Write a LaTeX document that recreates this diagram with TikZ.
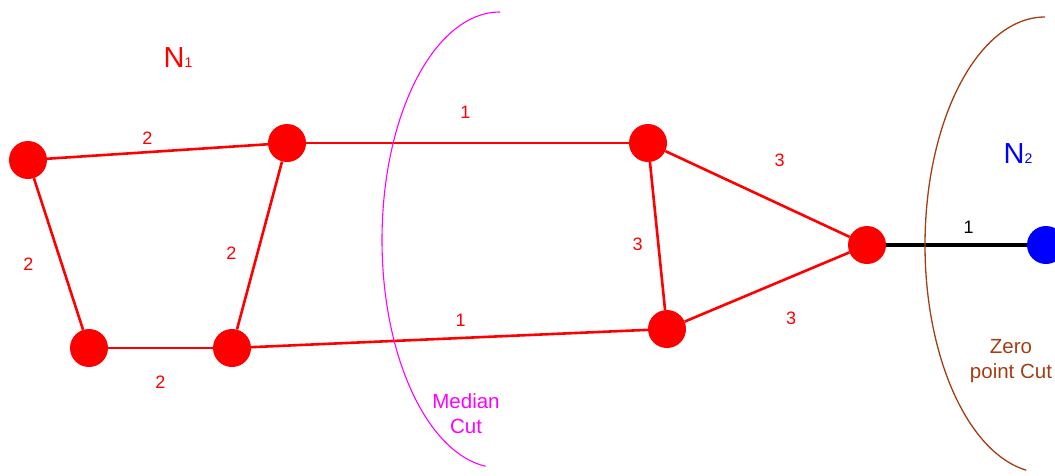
\documentclass[tikz,border=0pt]{standalone}
\usepackage{fontspec}
\setmainfont{Liberation Sans}
\usepackage{tikz}
\usetikzlibrary{positioning, calc}

\definecolor{cutmagenta}{RGB}{255,0,255}
\definecolor{cutbrown}{RGB}{163,62,20}

\begin{document}
\begin{tikzpicture}[
    x=1pt, y=-1pt,
    vertex/.style={circle, fill=red, minimum size=38pt, inner sep=0pt},
    bluevertex/.style={vertex, fill=blue},
    wt/.style={font=\fontsize{18}{18}\selectfont, text=red, inner sep=0pt},
    redge/.style={red, line width=2.6pt},
    cuttext/.style={font=\fontsize{20.5}{25}\selectfont, align=center, inner sep=0pt}
]
\useasboundingbox (0,0) rectangle (1055,475);

% Draw the vertices
\node[vertex] (a) at (28,160) {};
\node[vertex] (b) at (287,143) {};
\node[vertex] (c) at (89,348) {};
\node[vertex] (d) at (232,348) {};
\node[vertex] (e) at (648,143) {};
\node[vertex] (f) at (667,329) {};
\node[vertex] (g) at (867,245) {};
\node[bluevertex] (h) at (1046,245) {};

% Weighted edges
\draw[redge] (a) -- node[wt, xshift=-10pt, yshift=13pt] (wab) {2} (b);
\draw[redge] (a) -- node[wt, xshift=-30pt, yshift=-10pt] (wac) {2} (c);
\draw[redge] (c) -- node[wt, yshift=-34pt] (wcd) {2} (d);
\draw[redge] (b) -- node[wt, xshift=-28pt, yshift=-8pt] (wbd) {2} (d);
\draw[redge] (b) -- node[wt, xshift=-2pt, yshift=31pt] (wbe) {1} (e);
\draw[redge] (d) -- node[wt, xshift=11pt, yshift=18pt] (wdf) {1} (f);
\draw[redge] (e) -- node[wt, xshift=22pt, yshift=34pt] (weg) {3} (g);
\draw[redge] (e) -- node[wt, xshift=-20pt, yshift=-8pt] (wef) {3} (f);
\draw[redge] (f) -- node[wt, xshift=24pt, yshift=-31pt] (wfg) {3} (g);
\draw[black, line width=3.4pt] (g) -- node[wt, text=black, xshift=12pt, yshift=18pt] (wgh) {1} (h);

% The two cuts
\draw[cutmagenta, line width=1.1pt] (500,12) arc[start angle=270, end angle=97, x radius=118, y radius=228];
\draw[cutbrown, line width=1.3pt] (1045,17) arc[start angle=270, end angle=99, x radius=120, y radius=228];

% Labels
\node[font=\fontsize{29}{29}\selectfont, text=red, inner sep=0pt] (none) at (178,58) {N{\fontsize{14}{14}\selectfont 1}};
\node[font=\fontsize{29}{29}\selectfont, text=blue, inner sep=0pt] (ntwo) at (1018,154) {N{\fontsize{14}{14}\selectfont 2}};
\node[cuttext, text=cutmagenta] (median) at (466,414) {Median\\Cut};
\node[cuttext, text=cutbrown] (zero) at (1011,361) {Zero\\point Cut};

\end{tikzpicture}
\end{document}
